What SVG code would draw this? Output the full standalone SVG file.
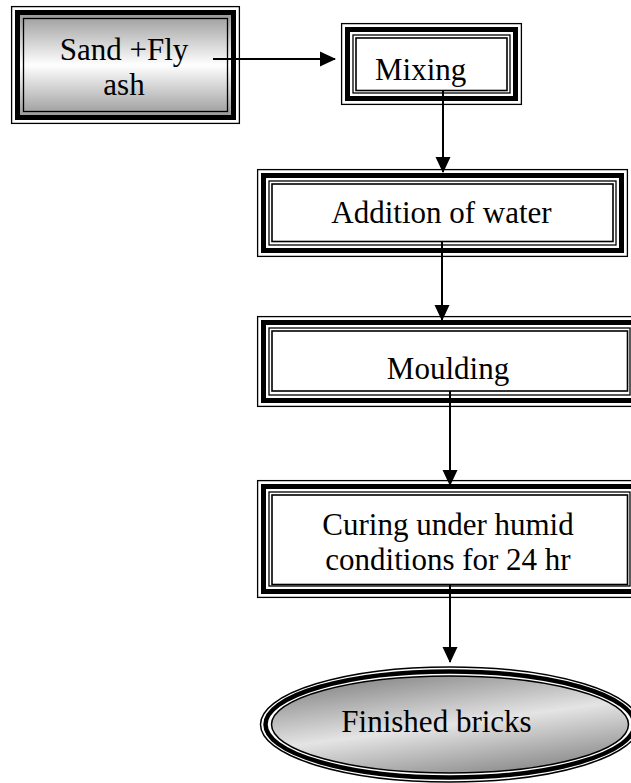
<svg xmlns="http://www.w3.org/2000/svg" width="631" height="783" viewBox="0 0 631 783">
<defs>
<linearGradient id="gSand" x1="0" y1="0" x2="0" y2="1">
<stop offset="0" stop-color="#9a9a9a"/>
<stop offset="0.5" stop-color="#ffffff"/>
<stop offset="1" stop-color="#9a9a9a"/>
</linearGradient>
<linearGradient id="gEll" x1="0.25" y1="0" x2="0.75" y2="1">
<stop offset="0" stop-color="#888888"/>
<stop offset="0.5" stop-color="#e4e4e4"/>
<stop offset="1" stop-color="#888888"/>
</linearGradient>
<marker id="ah" markerUnits="userSpaceOnUse" markerWidth="16" markerHeight="16" viewBox="0 0 16 16" refX="15" refY="8" orient="auto">
<path d="M0,0.5 L16,8 L0,15.5 Z" fill="#000"/>
</marker>
</defs>
<style>
.o{fill:none;stroke:#000;stroke-width:1.3}
.k{fill:none;stroke:#000;stroke-width:5}
.t{fill:none;stroke:#000;stroke-width:1.3}
.c{fill:#fff;stroke:#000;stroke-width:1.6}
.lbl{font-family:"Liberation Serif","Times New Roman",serif;font-size:31px;fill:#000}
.ar{stroke:#000;stroke-width:2;fill:none;marker-end:url(#ah)}
</style>

<g id="sand">
<rect x="11.6" y="6.6" width="227.8" height="116.8" class="o"/>
<rect x="19" y="14" width="213" height="102" fill="url(#gSand)" stroke="none"/>
<rect x="17.5" y="12.5" width="216" height="105" class="k"/>
<rect x="23.5" y="18.5" width="204" height="93" class="t" fill="url(#gSand)"/>
<text class="lbl" x="124" y="60" text-anchor="middle">Sand +Fly</text>
<text class="lbl" x="124" y="95" text-anchor="middle">ash</text>
</g>

<g id="mixing">
<rect x="341.6" y="23.6" width="179.8" height="80.8" class="o"/>
<rect x="347.5" y="29.5" width="168" height="69" class="k"/>
<rect x="353" y="35" width="157" height="58" class="t"/>
<rect x="356" y="38" width="151" height="52.5" class="c"/>
<text class="lbl" x="375" y="80">Mixing</text>
</g>

<g id="water">
<rect x="257.6" y="169.6" width="369.8" height="86.8" class="o"/>
<rect x="263.5" y="175.5" width="358" height="75" class="k"/>
<rect x="269" y="181" width="347" height="64" class="t"/>
<rect x="272" y="184" width="341" height="57.5" class="c"/>
<text class="lbl" x="441.5" y="223" text-anchor="middle">Addition of water</text>
</g>

<g id="moulding">
<rect x="257.6" y="316.6" width="384" height="89.8" class="o"/>
<rect x="263.5" y="322.5" width="372" height="78" class="k"/>
<rect x="269" y="328" width="361" height="67" class="t"/>
<rect x="272" y="331" width="355.5" height="60" class="c"/>
<text class="lbl" x="448" y="379" text-anchor="middle">Moulding</text>
</g>

<g id="curing">
<rect x="257.6" y="480.6" width="384" height="116.8" class="o"/>
<rect x="263.5" y="486.5" width="372" height="105" class="k"/>
<rect x="269" y="492" width="361" height="94" class="t"/>
<rect x="272" y="495" width="355.5" height="89.5" class="c"/>
<text class="lbl" x="448" y="535" text-anchor="middle">Curing under humid</text>
<text class="lbl" x="448" y="570" text-anchor="middle">conditions for 24 hr</text>
</g>

<g id="bricks">
<ellipse cx="450" cy="724.5" rx="189.5" ry="57.5" fill="#fff" stroke="#000" stroke-width="1.5"/>
<ellipse cx="450" cy="724.5" rx="184.5" ry="53" fill="none" stroke="#000" stroke-width="4.5"/>
<ellipse cx="450" cy="724.5" rx="178.5" ry="48.5" fill="url(#gEll)" stroke="#000" stroke-width="1.5"/>
<text class="lbl" x="436.5" y="732" text-anchor="middle">Finished bricks</text>
</g>

<g id="connectors">
<line x1="213" y1="59" x2="335" y2="59" class="ar"/>
<line x1="443" y1="91" x2="443" y2="172" class="ar"/>
<line x1="442" y1="241" x2="442" y2="320" class="ar"/>
<line x1="450" y1="391" x2="450" y2="485" class="ar"/>
<line x1="450" y1="585" x2="450" y2="662" class="ar"/>
</g>
</svg>
